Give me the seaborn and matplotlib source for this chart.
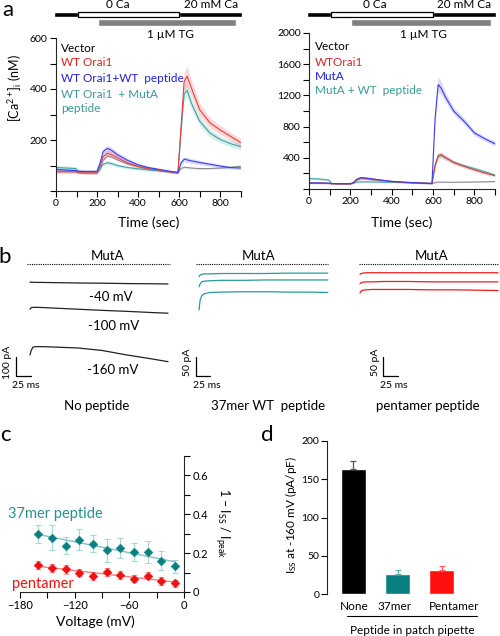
import matplotlib
matplotlib.use("Agg")
import numpy as np
import pandas as pd
import matplotlib.pyplot as plt
import seaborn as sns

# --------- panel a: Ca2+ imaging traces (nM) ---------
t_a = [0, 50, 95, 110, 150, 200, 215, 230, 250, 270, 300, 350, 400, 450, 500,
       550, 595, 610, 625, 640, 660, 700, 750, 800, 850, 900]

vec_L = [78, 78, 78, 70, 68, 68, 85, 120, 138, 134, 122, 106, 95, 86, 80, 75, 72, 88, 93, 92, 90, 88, 88, 90, 93, 97]
wt_L = [75, 75, 75, 74, 74, 74, 100, 135, 148, 143, 130, 110, 97, 88, 82, 76, 72, 250, 430, 450, 405, 320, 268, 240, 215, 190]
wtpep_L = [85, 82, 80, 77, 77, 77, 110, 155, 167, 160, 142, 120, 103, 92, 85, 78, 72, 110, 125, 122, 118, 112, 105, 98, 92, 90]
mutpep_L = [92, 90, 88, 78, 75, 75, 88, 105, 111, 108, 100, 92, 87, 83, 80, 76, 72, 240, 380, 395, 345, 275, 228, 202, 186, 174]
vec_Le = [3, 3, 3, 3, 3, 3, 4, 5, 5, 5, 4, 4, 3, 3, 3, 3, 3, 4, 4, 4, 4, 4, 4, 4, 4, 4]
wt_Le = [6, 6, 6, 6, 6, 6, 8, 10, 12, 12, 10, 8, 6, 6, 6, 5, 5, 20, 35, 38, 32, 25, 20, 18, 16, 15]
wtpep_Le = [6, 6, 6, 5, 5, 5, 8, 10, 12, 12, 10, 8, 6, 6, 5, 5, 5, 8, 10, 10, 9, 8, 7, 7, 6, 6]
mutpep_Le = [8, 8, 8, 6, 5, 5, 6, 7, 8, 8, 7, 6, 6, 5, 5, 5, 5, 15, 25, 28, 22, 18, 15, 13, 12, 12]

vec_R = [75, 75, 72, 68, 66, 66, 78, 110, 130, 128, 118, 104, 93, 86, 80, 75, 70, 82, 88, 88, 87, 86, 88, 90, 92, 95]
wt_R = [75, 75, 72, 68, 66, 66, 80, 120, 142, 140, 130, 112, 97, 88, 80, 75, 70, 300, 430, 440, 405, 340, 290, 245, 205, 170]
mut_R = [78, 78, 75, 70, 68, 68, 82, 122, 145, 142, 132, 114, 98, 89, 82, 76, 70, 900, 1340, 1290, 1180, 1000, 870, 720, 645, 580]
mutwt_R = [135, 128, 115, 72, 68, 68, 75, 88, 92, 92, 90, 88, 86, 84, 80, 76, 72, 300, 420, 430, 400, 345, 300, 262, 222, 180]
vec_Re = [5, 5, 5, 5, 5, 5, 5, 6, 6, 6, 6, 5, 5, 5, 5, 5, 5, 5, 5, 5, 5, 5, 5, 5, 5, 5]
wt_Re = [8, 8, 8, 8, 8, 8, 9, 10, 10, 10, 10, 9, 8, 8, 8, 8, 8, 25, 35, 35, 30, 25, 20, 18, 16, 15]
mut_Re = [8, 8, 8, 8, 8, 8, 9, 10, 10, 10, 10, 9, 8, 8, 8, 8, 8, 60, 100, 80, 60, 45, 40, 35, 30, 30]
mutwt_Re = [15, 15, 12, 8, 8, 8, 8, 8, 8, 8, 8, 8, 8, 8, 8, 8, 8, 25, 35, 35, 30, 25, 20, 18, 16, 15]

# solution protocol (sec)
zero_ca = [105, 600]
tg_on = [203, 880]

# --------- panel b: currents (pA) vs time (ms) ---------
t_b = [0, 2, 5, 10, 20, 40, 80, 120, 160, 200, 230]
nopep_40 = [-95, -96, -96, -97, -97, -98, -100, -101, -103, -104, -105]
nopep_100 = [-238, -230, -228, -228, -229, -232, -238, -244, -249, -255, -259]
nopep_160 = [-479, -455, -437, -435, -435, -437, -442, -455, -478, -498, -514]
wt37_a = [-33, -29, -27, -26, -26, -25, -25, -25, -24, -24, -24]
wt37_b = [-60, -52, -47, -45, -44, -43, -43, -42, -42, -42, -42]
wt37_c = [-121, -95, -83, -78, -75, -74, -73, -73, -74, -74, -75]
pent_a = [-27, -25, -24, -23, -23, -23, -23, -23, -23, -23, -23]
pent_b = [-52, -49, -48, -47, -47, -46, -46, -47, -47, -47, -47]
pent_c = [-76, -71, -69, -68, -67, -67, -67, -68, -68, -69, -70]

# --------- panel c: inactivation vs voltage ---------
volt = [-160, -145, -130, -115, -100, -85, -70, -55, -40, -25, -10]
inact_37 = [0.299, 0.279, 0.239, 0.270, 0.249, 0.215, 0.227, 0.206, 0.206, 0.162, 0.132]
inact_37_err = [0.045, 0.065, 0.045, 0.055, 0.045, 0.06, 0.05, 0.045, 0.055, 0.05, 0.035]
inact_pent = [0.138, 0.124, 0.117, 0.100, 0.084, 0.103, 0.088, 0.069, 0.083, 0.057, 0.045]
inact_pent_err = [0.022, 0.022, 0.022, 0.02, 0.02, 0.02, 0.02, 0.02, 0.018, 0.02, 0.018]

# --------- panel d: Iss at -160 mV ---------
peptides = ["None", "37mer", "Pentamer"]
iss = [163, 26, 31]
iss_err = [11, 5, 6]

# --------- style ---------
sns.set_theme(style="ticks")
plt.rcParams["font.family"] = ["Lato", "DejaVu Sans"]
plt.rcParams["mathtext.fontset"] = "custom"
plt.rcParams["mathtext.rm"] = "Lato"
plt.rcParams["mathtext.it"] = "Lato"
plt.rcParams["mathtext.default"] = "regular"
plt.rcParams["axes.linewidth"] = 0.8

W, H = 500, 636
fig = plt.figure(figsize=(W / 100, H / 100), dpi=100)


def box(l, t, r, b):
    return [l / W, 1 - b / H, (r - l) / W, (b - t) / H]


ov = fig.add_axes([0, 0, 1, 1])
ov.set_xlim(0, W)
ov.set_ylim(H, 0)
ov.axis("off")
ov.set_zorder(10)


def txt(x, y, s, size=8.5, color="black", **kw):
    ov.text(x, y, s, fontsize=size, color=color, ha=kw.pop("ha", "center"),
            va=kw.pop("va", "center"), **kw)


def tick_style(ax):
    ax.tick_params(which="both", direction="out", length=4, width=0.8,
                   labelsize=7.5, colors="black", pad=2)


C_GRAY, C_RED, C_BLUE, C_TEAL = "#8c8c8c", "#f03c3c", "#3c3cf0", "#3fa3a3"

# --------- panel a ---------
panels_a = [
    dict(box=(56, 38, 240.5, 191), ymax=600, step=200,
         series=[(vec_L, vec_Le, C_GRAY), (mutpep_L, mutpep_Le, C_TEAL),
                 (wt_L, wt_Le, C_RED), (wtpep_L, wtpep_Le, C_BLUE)]),
    dict(box=(309, 33, 495, 189), ymax=2000, step=400,
         series=[(vec_R, vec_Re, C_GRAY), (mutwt_R, mutwt_Re, C_TEAL),
                 (wt_R, wt_Re, C_RED), (mut_R, mut_Re, C_BLUE)]),
]
for p in panels_a:
    l, t, r, b = p["box"]
    ax = fig.add_axes(box(l, t, r, b))
    for vals, err, col in p["series"]:
        v, e = np.array(vals), np.array(err)
        ax.fill_between(t_a, v - e, v + e, color=col, alpha=0.2, lw=0)
        sns.lineplot(x=t_a, y=vals, color=col, lw=0.8, ax=ax)
    ax.set_xlim(0, 900)
    ax.set_ylim(0, p["ymax"])
    ax.set_xticks([0, 200, 400, 600, 800])
    ax.set_xticks([100, 300, 500, 700, 900], minor=True)
    yt = list(range(0, p["ymax"] + 1, p["step"]))
    ax.set_yticks(yt)
    ax.set_yticklabels([""] + [str(v) for v in yt[1:]])
    ax.set_yticks([v + p["step"] / 2 for v in yt[:-1]], minor=True)
    ax.set_xlabel("")
    ax.set_ylabel("")
    sns.despine(ax=ax)
    tick_style(ax)

    # solution bars
    axb = fig.add_axes(box(l, 9, r, 28))
    axb.set_xlim(0, 900)
    axb.set_ylim(28, 9)
    axb.axis("off")
    axb.barh(14.5, zero_ca[0] + 10, left=-10, height=5, color="black", clip_on=False)
    axb.barh(14.5, 905 - zero_ca[1], left=zero_ca[1], height=5, color="black", clip_on=False)
    axb.barh(14.5, zero_ca[1] - zero_ca[0], left=zero_ca[0], height=4.2, color="white",
             edgecolor="black", lw=0.9, clip_on=False)
    axb.barh(22.5, tg_on[1] - tg_on[0], left=tg_on[0], height=7, color="#808080", clip_on=False)
    txt((l + r) / 2, 223, "Time (sec)", size=10)

txt(118, 5, "0 Ca")
txt(211, 5, "20 mM Ca")
txt(170, 34, "1 µM TG")
txt(375, 5, "0 Ca")
txt(464, 5, "20 mM Ca")
txt(423, 34, "1 µM TG")
txt(8, 10, "a", size=16)
txt(15, 88, "[Ca$^{2+}$]$_i$ (nM)", size=9, rotation=90)

for y, s, c in [(48, "Vector", "black"), (62, "WT Orai1", "#e02020"),
                (78, "WT Orai1+WT  peptide", "#2020e0"),
                (94, "WT Orai1  + MutA", "#3a9a9a"), (108, "peptide", "#3a9a9a")]:
    txt(61, y, s, size=8.5, color=c, ha="left")
for y, s, c in [(47, "Vector", "black"), (62, "WTOrai1", "#e02020"),
                (77, "MutA", "#2020e0"), (91, "MutA + WT  peptide", "#3a9a9a")]:
    txt(315, y, s, size=8.5, color=c, ha="left")

# --------- panel b ---------
panels_b = [
    dict(l=0, r=180, t0=30, s=0.6, k=0.19, dot=(27, 170), col="#222222",
         traces=[nopep_40, nopep_100, nopep_160], bar=(16, 100), lab_pA="100 pA",
         x_pA=7, x_ms=26, mid=108, name="No peptide", xname=97),
    dict(l=180, r=340, t0=199, s=0.56, k=0.38, dot=(196, 328), col="#2a9a9a",
         traces=[wt37_a, wt37_b, wt37_c], bar=(196, 50), lab_pA="50 pA",
         x_pA=188, x_ms=207, mid=259, name="37mer WT  peptide", xname=268),
    dict(l=340, r=500, t0=360, s=0.6, k=0.38, dot=(359, 498), col="#e82020",
         traces=[pent_a, pent_b, pent_c], bar=(383, 50), lab_pA="50 pA",
         x_pA=375, x_ms=394, mid=432, name="pentamer peptide", xname=428),
]
y0 = 264
for p in panels_b:
    ax = fig.add_axes(box(p["l"], 250, p["r"], 400))
    ax.set_xlim((p["l"] - p["t0"]) / p["s"], (p["r"] - p["t0"]) / p["s"])
    ax.set_ylim((y0 - 400) / p["k"], (y0 - 250) / p["k"])
    ax.axis("off")
    ax.hlines(0, (p["dot"][0] - p["t0"]) / p["s"], (p["dot"][1] - p["t0"]) / p["s"],
              colors="black", linestyles=(0, (1, 1)), lw=0.8)
    for tr in p["traces"]:
        sns.lineplot(x=t_b, y=tr, color=p["col"], lw=0.9, ax=ax)
    ax.set_xlabel("")
    ax.set_ylabel("")
    bx, amp = p["bar"]
    ov.plot([bx, bx, bx + 25 * p["s"]], [357, 357 + amp * p["k"], 357 + amp * p["k"]],
            color="black", lw=0.9)
    txt(p["x_pA"], 362, p["lab_pA"], size=7.5, rotation=90)
    txt(p["x_ms"], 386, "25 ms", size=7.5)
    txt(p["mid"], 256, "MutA", size=9.5)
    txt(p["xname"], 406, p["name"], size=9.5)

txt(111, 297, "-40 mV", size=9.5)
txt(114, 326, "-100 mV", size=9.5)
txt(113, 370, "-160 mV", size=9.5)
txt(5, 257, "b", size=16)

# --------- panel c ---------
axc = fig.add_axes(box(20, 456, 184, 592))
for y, e, pc, lc, ec in [(inact_37, inact_37_err, "#0b8080", "#7cc4c4", "#a6d6d6"),
                         (inact_pent, inact_pent_err, "#ee1111", "#f08080", "#f5a5a5")]:
    axc.errorbar(volt, y, yerr=e, fmt="none", ecolor=ec, elinewidth=0.8, capsize=2, capthick=0.8)
    sns.regplot(x=volt, y=y, ci=None, scatter=False, ax=axc, line_kws=dict(color=lc, lw=1))
    sns.scatterplot(x=volt, y=y, marker="D", s=20, color=pc, edgecolor=pc, ax=axc, zorder=5)
axc.set_xlim(-180, 0)
axc.set_ylim(0, 0.7)
axc.set_xticks([-180, -120, -60, 0])
axc.set_xticks([-150, -90, -30], minor=True)
axc.set_yticks([0, 0.2, 0.4, 0.6])
axc.set_yticklabels(["0", "0.2", "0.4", "0.6"])
axc.set_yticks([0.1, 0.3, 0.5, 0.7], minor=True)
axc.yaxis.tick_right()
axc.spines["left"].set_visible(False)
axc.spines["top"].set_visible(False)
axc.set_xlabel("")
axc.set_ylabel("")
tick_style(axc)
axc.tick_params(labelsize=8)
txt(55, 514, "37mer peptide", size=10.5, color="#2a8f8f")
txt(43, 584, "pentamer", size=10.5, color="#ee1111")
txt(95, 622, "Voltage (mV)", size=10)
txt(222, 523, "1 – I$_{SS}$ / I$_{peak}$", size=9, rotation=270)
txt(5, 435, "c", size=16)

# --------- panel d ---------
axd = fig.add_axes(box(327, 441, 468, 594))
bar_cols = ["#000000", "#0a7f7f", "#ff1010"]
df_d = pd.DataFrame({"pep": peptides, "iss": iss})
sns.barplot(data=df_d, x="pep", y="iss", hue="pep", palette=bar_cols, width=0.57,
            saturation=1, errorbar=None, legend=False, ax=axd)
for i, (v, e, c) in enumerate(zip(iss, iss_err, ["#555555", "#66b0b0", "#ff6060"])):
    axd.errorbar(i, v, yerr=[[0], [e]], fmt="none", ecolor=c, elinewidth=0.9, capsize=2.5, capthick=0.9)
axd.set_xlim(-0.6, 2.6)
axd.set_ylim(0, 200)
axd.set_yticks([0, 50, 100, 150, 200])
axd.set_xticklabels([])
sns.despine(ax=axd, bottom=True)
axd.set_xlabel("")
axd.set_ylabel("")
tick_style(axd)
axd.tick_params(axis="y", labelsize=7.5, pad=1.5)
axd.tick_params(axis="x", length=0)
for x, s in zip([354, 395, 454], peptides):
    txt(x, 607, s, size=8.5)
ov.plot([347, 477], [616, 616], color="black", lw=0.8)
txt(412, 630, "Peptide in patch pipette", size=8.5)
txt(291, 515, "I$_{SS}$ at -160 mV (pA/pF)", size=8.5, rotation=90)
txt(267, 435, "d", size=16)

fig.savefig("out.png", dpi=100)
